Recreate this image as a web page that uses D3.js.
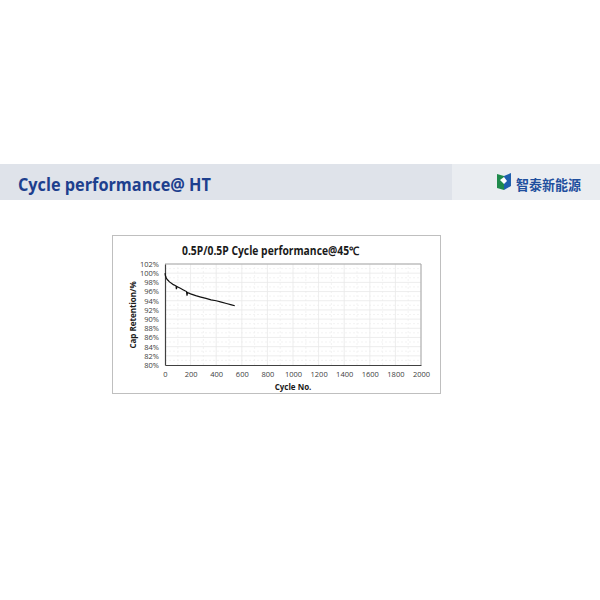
<!DOCTYPE html>
<html><head><meta charset="utf-8">
<script src="https://cdn.jsdelivr.net/npm/d3@7"></script>
<style>html,body{margin:0;padding:0;background:#fff;}svg{display:block;}</style>
</head><body>
<svg id="c" width="600" height="600"></svg>
<script>
// data
const cycles    = [0, 3, 8, 15, 25, 35, 50, 65, 80, 86, 89, 93, 100, 120, 140, 160, 168, 172, 176, 182, 200, 240, 280, 320, 360, 400, 440, 480, 520, 545];
const retention = [100.0, 99.5, 99.1, 98.7, 98.4, 98.1, 97.8, 97.5, 97.3, 97.2, 96.5, 97.1, 97.0, 96.7, 96.4, 96.1, 96.0, 95.1, 95.8, 95.7, 95.5, 95.1, 94.8, 94.5, 94.2, 94.0, 93.7, 93.4, 93.1, 92.9];
const xTicks = [0, 200, 400, 600, 800, 1000, 1200, 1400, 1600, 1800, 2000];
const yTicks = [80, 82, 84, 86, 88, 90, 92, 94, 96, 98, 100, 102];
const headerTitle = "Cycle performance@ HT";
const logoText = "智泰新能源";
const chartTitle = "0.5P/0.5P Cycle performance@45℃";
const xLabel = "Cycle No.";
const yLabel = "Cap Retention/%";

const svg = d3.select("#c");
// header band
svg.append("rect").attr("x",0).attr("y",164).attr("width",600).attr("height",36).attr("fill","#dfe3ea");
svg.append("rect").attr("x",452).attr("y",164).attr("width",148).attr("height",36).attr("fill","#eaedf1");
svg.append("text").attr("x",18).attr("y",191).text(headerTitle)
  .attr("font-family","Open Sans, sans-serif").attr("font-weight","bold").attr("font-size",17)
  .attr("fill","#1d3f8e").attr("textLength",193).attr("lengthAdjust","spacingAndGlyphs");
// logo
const lg = svg.append("g");
lg.append("path").attr("d","M497,174 L504,176 L504,190 L497,188 Z").attr("fill","#1f8a4c");
lg.append("path").attr("d","M504,176 L511,173 L511,186 L504,190 Z").attr("fill","#1f5fae");
lg.append("path").attr("d","M500,180 L504,177 L507,181 L504,184 Z").attr("fill","#ffffff");
lg.append("text").attr("x",516).attr("y",190).text(logoText)
  .attr("font-family","Noto Sans CJK SC, sans-serif").attr("font-weight","bold").attr("font-size",13.5)
  .attr("fill","#1f4f9e").attr("textLength",65).attr("lengthAdjust","spacingAndGlyphs");

// chart box
svg.append("rect").attr("x",112.5).attr("y",235.5).attr("width",328).attr("height",158)
  .attr("fill","#fff").attr("stroke","#bfbfbf");

const x = d3.scaleLinear().domain([0,2000]).range([165,421]);
const y = d3.scaleLinear().domain([80,102]).range([365,264]);
const g = svg.append("g");
// minor grid
d3.range(100,2000,200).forEach(v=>{
  g.append("line").attr("x1",x(v)).attr("x2",x(v)).attr("y1",y(80)).attr("y2",y(102))
   .attr("stroke","#f0f0f0").attr("stroke-width",0.8).attr("stroke-dasharray","2,2");
});
d3.range(81,102,2).forEach(v=>{
  g.append("line").attr("x1",x(0)).attr("x2",x(2000)).attr("y1",y(v)).attr("y2",y(v))
   .attr("stroke","#f0f0f0").attr("stroke-width",0.8).attr("stroke-dasharray","2,2");
});
// major grid
xTicks.slice(1).forEach(v=>{
  g.append("line").attr("x1",x(v)).attr("x2",x(v)).attr("y1",y(80)).attr("y2",y(102))
   .attr("stroke","#e8e8e8").attr("stroke-width",0.8);
});
yTicks.slice(1).forEach(v=>{
  g.append("line").attr("x1",x(0)).attr("x2",x(2000)).attr("y1",y(v)).attr("y2",y(v))
   .attr("stroke","#e8e8e8").attr("stroke-width",0.8);
});
// plot border
g.append("line").attr("x1",x(0)).attr("x2",x(2000)).attr("y1",y(102)).attr("y2",y(102)).attr("stroke","#a6a6a6");
g.append("line").attr("x1",x(2000)).attr("x2",x(2000)).attr("y1",y(80)).attr("y2",y(102)).attr("stroke","#a6a6a6");

// axes
const xa = svg.append("g").attr("transform",`translate(0,${y(80)})`)
  .call(d3.axisBottom(x).tickValues(xTicks).tickSize(0).tickPadding(7).tickFormat(d3.format("d")));
const ya = svg.append("g").attr("transform",`translate(${x(0)},0)`)
  .call(d3.axisLeft(y).tickValues(yTicks).tickSize(0).tickPadding(6).tickFormat(d=>d+"%"));
[xa,ya].forEach(a=>{
  a.select(".domain").attr("stroke","#404040").attr("stroke-width",1.2);
  a.selectAll("text").attr("font-family","Open Sans, sans-serif").attr("font-size",7.5).attr("fill","#404040");
});

// line
svg.append("path").datum(cycles.map((c,i)=>[c,retention[i]]))
  .attr("d", d3.line().x(d=>x(d[0])).y(d=>y(d[1])))
  .attr("fill","none").attr("stroke","#111").attr("stroke-width",1.2);

// titles
svg.append("text").attr("x",182).attr("y",255).text(chartTitle)
  .attr("font-family","Open Sans, sans-serif").attr("font-weight","bold").attr("font-size",11.5).attr("fill","#1a1a1a")
  .attr("textLength",177).attr("lengthAdjust","spacingAndGlyphs");
svg.append("text").attr("x",293).attr("y",390).attr("text-anchor","middle").text(xLabel)
  .attr("font-family","Open Sans, sans-serif").attr("font-weight","bold").attr("font-size",8).attr("fill","#1a1a1a");
svg.append("text").attr("transform","translate(136,315) rotate(-90)").attr("text-anchor","middle").text(yLabel)
  .attr("font-family","Open Sans, sans-serif").attr("font-weight","bold").attr("font-size",8).attr("fill","#1a1a1a");
</script>
</body></html>
